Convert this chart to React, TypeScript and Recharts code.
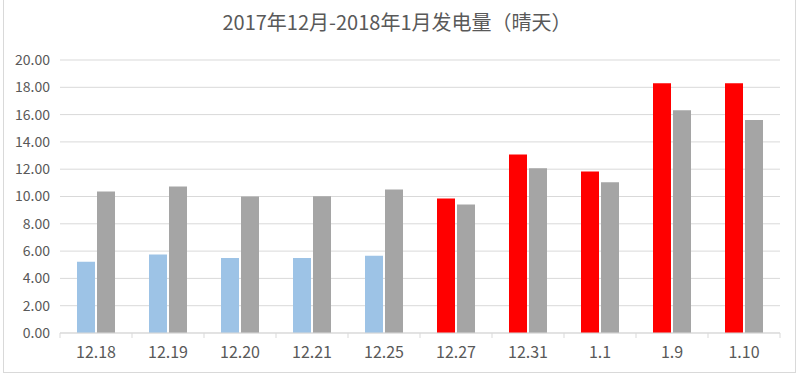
import { Bar, BarChart, CartesianGrid, Cell, XAxis, YAxis } from 'recharts'

const categories = ['12.18', '12.19', '12.20', '12.21', '12.25', '12.27', '12.31', '1.1', '1.9', '1.10']
const seriesA = [5.22, 5.75, 5.5, 5.5, 5.66, 9.85, 13.08, 11.84, 18.3, 18.3]
const seriesB = [10.37, 10.74, 10.0, 10.02, 10.52, 9.42, 12.07, 11.04, 16.32, 15.6]
const yTicks = [0, 2, 4, 6, 8, 10, 12, 14, 16, 18, 20]
// first five days drawn in blue, the rest highlighted in red
const highlightFrom = 5

const BLUE = '#9dc3e6'
const RED = '#ff0000'
const GRAY = '#a5a5a5'
const TEXT = '#595959'
const GRID = '#d9d9d9'
const FONT = '"Microsoft YaHei", "Noto Sans CJK SC", sans-serif'

const data = categories.map((name, i) => ({ name, a: seriesA[i], b: seriesB[i] }))

const BAND = 72

function XTick(props: any) {
  const { x, y, payload, index } = props
  return (
    <g>
      <line x1={x - BAND / 2} x2={x - BAND / 2} y1={y} y2={y + 5} stroke={GRID} />
      {index === categories.length - 1 && (
        <line x1={x + BAND / 2} x2={x + BAND / 2} y1={y} y2={y + 5} stroke={GRID} />
      )}
      <text x={x} y={y + 25} textAnchor="middle" fill={TEXT} fontSize={16} fontFamily={FONT}>
        {payload.value}
      </text>
    </g>
  )
}

export default function App() {
  return (
    <div style={{ position: 'fixed', left: 0, top: 0, width: 800, height: 377, background: '#fff' }}>
      <div
        style={{
          position: 'absolute',
          left: 3,
          top: -2,
          width: 791,
          height: 373,
          border: `1px solid ${GRID}`,
        }}
      />
      <div
        style={{
          position: 'absolute',
          left: 0,
          top: 7,
          width: 794,
          textAlign: 'center',
          fontFamily: FONT,
          fontSize: 20,
          color: TEXT,
        }}
      >
        2017年12月-2018年1月发电量（晴天）
      </div>
      <BarChart
        width={800}
        height={377}
        data={data}
        margin={{ top: 60, right: 20, bottom: 0, left: 0 }}
        barSize={18}
        barGap={2}
        style={{ position: 'absolute', left: 0, top: 0 }}
      >
        <CartesianGrid stroke={GRID} vertical={false} />
        <XAxis
          dataKey="name"
          height={44}
          stroke={GRID}
          tickLine={false}
          tickSize={0}
          tickMargin={0}
          interval={0}
          tick={<XTick />}
        />
        <YAxis
          width={60}
          domain={[0, 20]}
          ticks={yTicks}
          axisLine={false}
          tickLine={false}
          tickSize={6}
          tickMargin={4}
          tickFormatter={(v: number) => v.toFixed(2)}
          tick={{ fill: TEXT, fontSize: 14, fontFamily: FONT }}
        />
        <Bar dataKey="a" isAnimationActive={false}>
          {data.map((_, i) => (
            <Cell key={i} fill={i < highlightFrom ? BLUE : RED} />
          ))}
        </Bar>
        <Bar dataKey="b" fill={GRAY} isAnimationActive={false} />
      </BarChart>
    </div>
  )
}
